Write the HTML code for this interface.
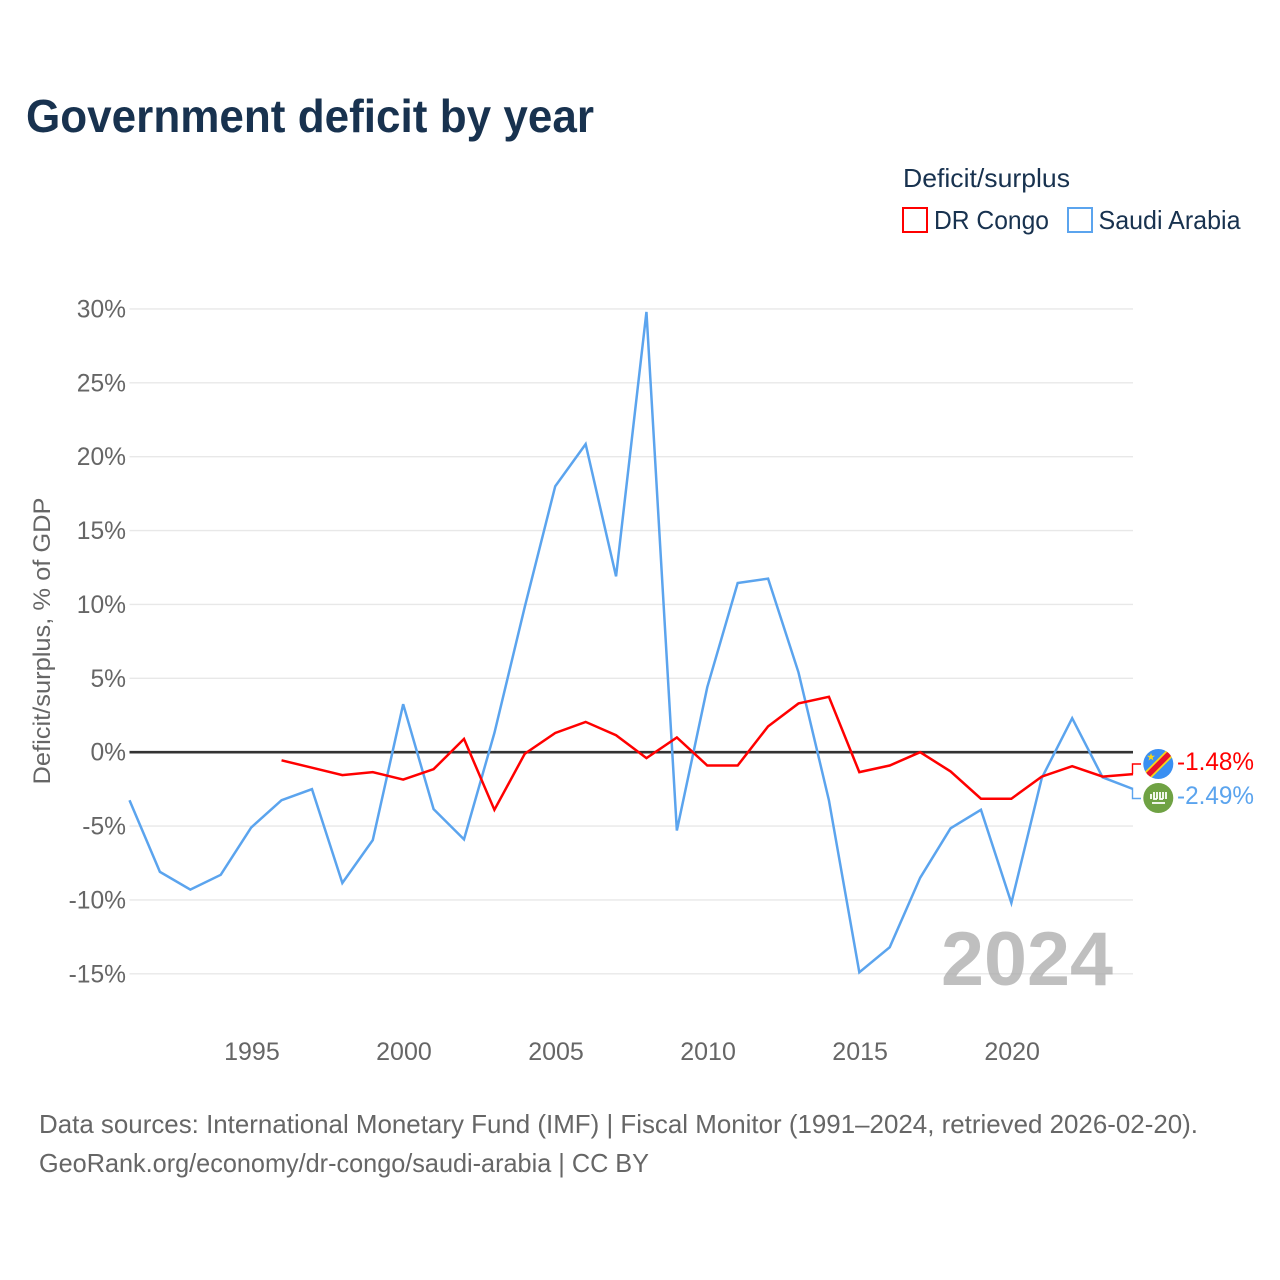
<!DOCTYPE html>
<html lang="en">
<head>
<meta charset="utf-8">
<title>Government deficit by year</title>
<style>
html,body{margin:0;padding:0;background:#fff;width:1280px;height:1280px;overflow:hidden}
svg{display:block;font-family:"Liberation Sans",sans-serif}
</style>
</head>
<body>
<svg id="chart" width="1280" height="1280" viewBox="0 0 1280 1280" xmlns="http://www.w3.org/2000/svg">
  <defs>
    <clipPath id="flag-clip-1"><circle cx="1158.300" cy="764" r="15"/></clipPath>
  </defs>
  <rect width="1280" height="1280" fill="#fff"/>
  <text x="26" y="132" font-size="46" font-weight="700" fill="#18324f" textLength="568" lengthAdjust="spacingAndGlyphs">Government deficit by year</text>

  <g>
    <text x="903" y="187" font-size="26" fill="#18324f" textLength="167" lengthAdjust="spacingAndGlyphs">Deficit/surplus</text>
    <rect x="903" y="208" width="24" height="24" fill="#fff" stroke="#ff0000" stroke-width="2"/>
    <text x="934" y="229" font-size="26" fill="#18324f" textLength="115" lengthAdjust="spacingAndGlyphs">DR Congo</text>
    <rect x="1068" y="208" width="24" height="24" fill="#fff" stroke="#5ba4ee" stroke-width="2"/>
    <text x="1098.500" y="229" font-size="26" fill="#18324f" textLength="142" lengthAdjust="spacingAndGlyphs">Saudi Arabia</text>
  </g>

  <g id="grid"></g>
  <g id="yticks"></g>
  <g id="xticks"></g>
  <text transform="translate(50,641) rotate(-90)" text-anchor="middle" font-size="24" fill="#666" textLength="287" lengthAdjust="spacingAndGlyphs">Deficit/surplus, % of GDP</text>

  <text x="941" y="985" font-size="76" font-weight="700" fill="#a6a6a6" fill-opacity="0.72" textLength="172" lengthAdjust="spacingAndGlyphs">2024</text>

  <g id="series"></g>
  <g id="endcaps"></g>

  <g clip-path="url(#flag-clip-1)">
    <rect x="1143" y="748.500" width="31" height="31" fill="#3a8ff2"/>
    <line x1="1143" y1="780" x2="1174" y2="749" stroke="#f7d618" stroke-width="9"/>
    <line x1="1143" y1="780" x2="1174" y2="749" stroke="#e8112d" stroke-width="5.500"/>
    <polygon points="1151,753 1152,755.800 1155,755.800 1152.600,757.600 1153.500,760.500 1151,758.800 1148.500,760.500 1149.400,757.600 1147,755.800 1150,755.800" fill="#f7d618"/>
  </g>
  <g>
    <circle cx="1158.300" cy="798" r="15" fill="#6fa244"/>
    <path d="M1151 794v5M1154 792v7h3M1157 792v7M1160 792v7h3M1163 792v7M1166 792v7M1152 803h13" stroke="#fff" stroke-width="1.800" fill="none"/>
  </g>

  <text x="39" y="1133" font-size="26" fill="#666" textLength="1159" lengthAdjust="spacingAndGlyphs">Data sources: International Monetary Fund (IMF) | Fiscal Monitor (1991–2024, retrieved 2026-02-20).</text>
  <text x="39" y="1172" font-size="26" fill="#666" textLength="610" lengthAdjust="spacingAndGlyphs">GeoRank.org/economy/dr-congo/saudi-arabia | CC BY</text>
</svg>
<script>
const years = [1991,1992,1993,1994,1995,1996,1997,1998,1999,2000,2001,2002,2003,2004,2005,2006,2007,2008,2009,2010,2011,2012,2013,2014,2015,2016,2017,2018,2019,2020,2021,2022,2023,2024];
const saudiArabia = [-3.25,-8.1,-9.3,-8.3,-5.1,-3.25,-2.5,-8.85,-5.95,3.25,-3.85,-5.9,1.3,9.85,18,20.85,11.9,29.8,-5.3,4.4,11.45,11.75,5.4,-3.25,-14.9,-13.2,-8.5,-5.15,-3.9,-10.2,-1.75,2.3,-1.7,-2.49];
const drCongo = [null,null,null,null,null,-0.55,-1.05,-1.55,-1.35,-1.85,-1.15,0.9,-3.9,-0.1,1.3,2.05,1.15,-0.4,1,-0.9,-0.9,1.75,3.3,3.75,-1.35,-0.9,0,-1.3,-3.15,-3.15,-1.65,-0.95,-1.65,-1.48];
const yTicks = [30,25,20,15,10,5,0,-5,-10,-15];
const xTicks = [1995,2000,2005,2010,2015,2020];

const NS = 'http://www.w3.org/2000/svg';
const xScale = function (year) { return 129.5 + (year - 1991) * (1133 - 129.5) / 33; };
const yScale = function (value) { return 752.2 - value * 14.775; };

const grid = document.getElementById('grid');
const yLabels = document.getElementById('yticks');
const xLabels = document.getElementById('xticks');
const seriesGroup = document.getElementById('series');
const endcaps = document.getElementById('endcaps');

function make(tag, attrs, parent, text) {
  const el = document.createElementNS(NS, tag);
  Object.keys(attrs).forEach(function (k) { el.setAttribute(k, attrs[k]); });
  if (text !== undefined) el.textContent = text;
  parent.appendChild(el);
  return el;
}

yTicks.filter(function (t) { return t !== 0; }).forEach(function (t) {
  const line = make('line', {x1: 129.5, x2: 1133, y1: yScale(t), y2: yScale(t), stroke: '#e8e8e8', 'stroke-width': 1.4}, grid);
  
  
});

yTicks.forEach(function (t) {
  const label = make('text', {x: 126, y: yScale(t) + 8.5, 'text-anchor': 'end', 'font-size': 24.6, fill: '#666'}, yLabels, t + '%');
  
  
});

xTicks.forEach(function (t) {
  const label = make('text', {x: xScale(t) + 0.8, y: 1060, 'text-anchor': 'middle', 'font-size': 25, fill: '#666'}, xLabels, String(t));
  
  
});

const zero = make('line', {x1: 129.5, x2: 1133, y1: yScale(0), y2: yScale(0), stroke: '#333', 'stroke-width': 2.6}, grid);



function pathFor(values) {
  const pts = [];
  values.forEach(function (v, i) {
    if (v !== null) pts.push(xScale(years[i]).toFixed(2) + ',' + yScale(v).toFixed(2));
  });
  return pts.join(' ');
}

const saudiLine = make('polyline', {points: pathFor(saudiArabia), fill: 'none', stroke: '#5ba4ee', 'stroke-width': 2.5, 'stroke-linejoin': 'miter'}, seriesGroup);



const congoLine = make('polyline', {points: pathFor(drCongo), fill: 'none', stroke: '#ff0000', 'stroke-width': 2.5, 'stroke-linejoin': 'miter'}, seriesGroup);



const lastCongo = drCongo[drCongo.length - 1];
const lastSaudi = saudiArabia[saudiArabia.length - 1];

const congoLink = make('polyline', {points: '1132.5,' + yScale(lastCongo) + ' 1132.5,764 1141,764', fill: 'none', stroke: '#ff0000', 'stroke-width': 1.4}, endcaps);



const saudiLink = make('polyline', {points: '1132.5,' + yScale(lastSaudi) + ' 1132.5,798.5 1141,798.5', fill: 'none', stroke: '#5ba4ee', 'stroke-width': 1.4}, endcaps);



const congoValue = make('text', {x: 1177, y: 770, 'font-size': 25, fill: '#ff0000', textLength: 77, lengthAdjust: 'spacingAndGlyphs'}, endcaps, lastCongo.toFixed(2) + '%');



const saudiValue = make('text', {x: 1177, y: 804, 'font-size': 25, fill: '#5ba4ee', textLength: 77, lengthAdjust: 'spacingAndGlyphs'}, endcaps, lastSaudi.toFixed(2) + '%');


</script>
</body>
</html>
